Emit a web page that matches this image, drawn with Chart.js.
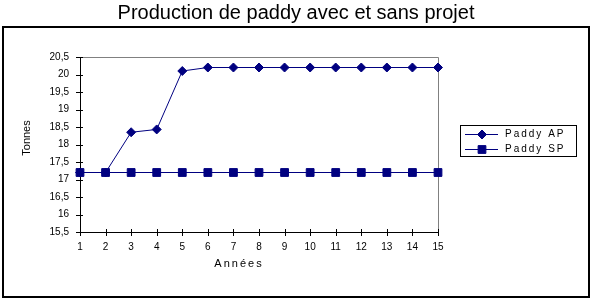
<!DOCTYPE html>
<html>
<head>
<meta charset="utf-8">
<script src="https://cdn.jsdelivr.net/npm/chart.js@4/dist/chart.umd.min.js"></script>
<style>
  html, body { margin: 0; padding: 0; background: #fff; }
  #wrap { width: 593px; height: 301px; }
</style>
</head>
<body>
<div id="wrap"><canvas id="paddyChart" width="593" height="301"></canvas></div>
<script>
// Data
const years = ['1', '2', '3', '4', '5', '6', '7', '8', '9', '10', '11', '12', '13', '14', '15'];
const paddyAP = [17.2, 17.2, 18.35, 18.43, 20.1, 20.2, 20.2, 20.2, 20.2, 20.2, 20.2, 20.2, 20.2, 20.2, 20.2];
const paddySP = [17.2, 17.2, 17.2, 17.2, 17.2, 17.2, 17.2, 17.2, 17.2, 17.2, 17.2, 17.2, 17.2, 17.2, 17.2];
const yMin = 15.5;
const yMax = 20.5;
const yStep = 0.5;

const navy = '#000080';
const tickFont = { family: 'Liberation Sans, Arial, sans-serif', size: 10 };

const ctx = document.getElementById('paddyChart').getContext('2d');
ctx.letterSpacing = '1px';

// Frame, title, axis titles, crossing tick marks and the boxed legend
const decorPlugin = {
    id: 'decor',
    beforeDatasetsDraw(chart) {
        const c = chart.ctx;
        const a = chart.chartArea;
        c.save();
        // grey plot-area border on top and right
        c.strokeStyle = '#808080';
        c.lineWidth = 1;
        c.beginPath();
        c.moveTo(a.left, a.top + 0.5);
        c.lineTo(a.right + 0.5, a.top + 0.5);
        c.lineTo(a.right + 0.5, a.bottom);
        c.stroke();
        // tick marks crossing the axes
        c.strokeStyle = '#000';
        const xs = chart.scales.x;
        const ys = chart.scales.y;
        c.beginPath();
        xs.ticks.forEach((t, i) => {
            const x = Math.round(xs.getPixelForTick(i)) + 0.5;
            c.moveTo(x, a.bottom - 3);
            c.lineTo(x, a.bottom + 4);
        });
        ys.ticks.forEach((t, i) => {
            const y = Math.round(ys.getPixelForTick(i)) + 0.5;
            c.moveTo(a.left - 4, y);
            c.lineTo(a.left + 3, y);
        });
        c.stroke();
        c.restore();
    },
    afterDraw(chart) {
        const c = chart.ctx;
        c.save();
        // outer frame
        c.strokeStyle = '#000';
        c.lineWidth = 2;
        c.strokeRect(3, 27, 586, 270);
        // main title
        c.letterSpacing = '0px';
        c.fillStyle = '#000';
        c.font = '20px "Liberation Sans", Arial, sans-serif';
        c.textAlign = 'center';
        c.textBaseline = 'alphabetic';
        c.fillText('Production de paddy avec et sans projet', 296, 19);
        // axis titles
        c.font = '11px "Liberation Sans", Arial, sans-serif';
        c.letterSpacing = '2px';
        c.textBaseline = 'middle';
        c.fillText('Années', 239, 264);
        c.letterSpacing = '0px';
        c.translate(27, 138);
        c.rotate(-Math.PI / 2);
        c.fillText('Tonnes', 0, 0);
        c.restore();

        // legend box
        c.save();
        c.strokeStyle = '#000';
        c.lineWidth = 1;
        c.strokeRect(460.5, 125.5, 116, 31);
        c.font = '10px "Liberation Sans", Arial, sans-serif';
        c.letterSpacing = '2px';
        c.textBaseline = 'middle';
        c.textAlign = 'left';
        chart.data.datasets.forEach((ds, i) => {
            const y = 134 + i * 15;
            c.strokeStyle = ds.borderColor;
            c.fillStyle = ds.backgroundColor;
            c.lineWidth = 1;
            c.beginPath();
            c.moveTo(465, y + 0.5);
            c.lineTo(498, y + 0.5);
            c.stroke();
            Chart.helpers.drawPoint(c, {
                pointStyle: ds.pointStyle,
                radius: ds.pointRadius,
                rotation: 0,
                borderWidth: 1
            }, 482, y + 0.5);
            c.fillStyle = '#000';
            c.fillText(ds.label, 505, y + 0.5);
        });
        c.restore();
    }
};

new Chart(ctx, {
    type: 'line',
    data: {
        labels: years,
        datasets: [
            {
                label: 'Paddy AP',
                data: paddyAP,
                borderColor: navy,
                backgroundColor: navy,
                borderWidth: 1,
                pointStyle: 'rectRot',
                pointRadius: 4.5,
                pointBorderWidth: 1,
                tension: 0
            },
            {
                label: 'Paddy SP',
                data: paddySP,
                borderColor: navy,
                backgroundColor: navy,
                borderWidth: 1,
                pointStyle: 'rect',
                pointRadius: 5.5,
                pointBorderWidth: 1,
                tension: 0
            }
        ]
    },
    options: {
        responsive: false,
        animation: false,
        events: [],
        layout: { padding: { left: 0, top: 57, right: 155, bottom: 24 } },
        plugins: {
            legend: { display: false },
            title: { display: false },
            tooltip: { enabled: false }
        },
        scales: {
            x: {
                type: 'category',
                offset: false,
                grid: { display: true, drawOnChartArea: false, drawTicks: false },
                border: { display: true, color: '#000', width: 1 },
                ticks: { color: '#000', font: tickFont, padding: 9, maxRotation: 0, autoSkip: false },
                afterFit(scale) { scale.height = 45; }
            },
            y: {
                min: yMin,
                max: yMax,
                grid: { display: true, drawOnChartArea: false, drawTicks: false },
                border: { display: true, color: '#000', width: 1 },
                ticks: {
                    stepSize: yStep,
                    color: '#000',
                    font: tickFont,
                    padding: 11,
                    callback: v => String(v).replace('.', ',')
                },
                afterFit(scale) { scale.width = 80; }
            }
        }
    },
    plugins: [decorPlugin]
});
</script>
</body>
</html>
